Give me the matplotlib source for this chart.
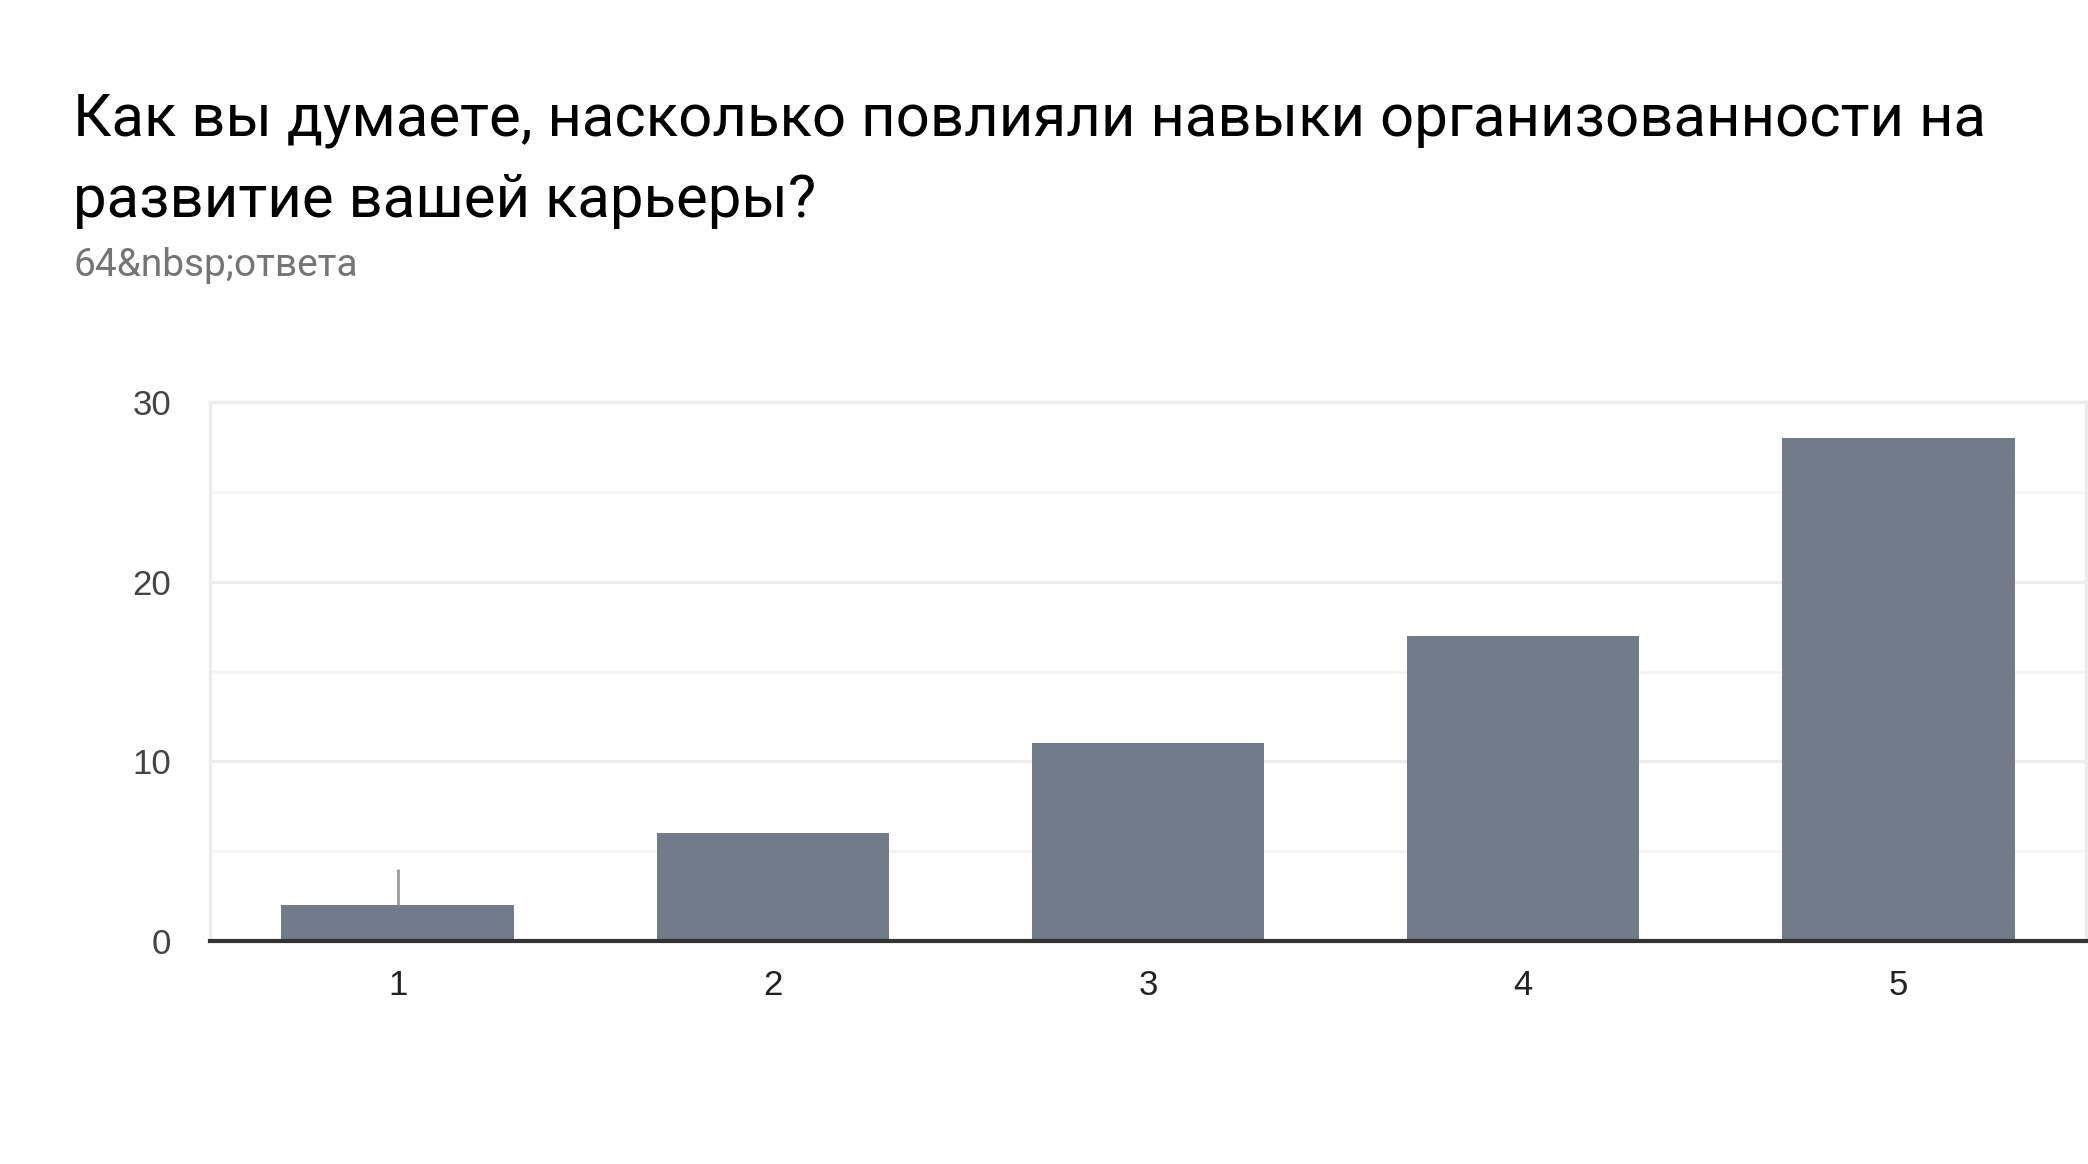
import matplotlib.pyplot as plt
from matplotlib.ticker import MultipleLocator

# survey answers (scale 1..5) and number of responses
categories = ['1', '2', '3', '4', '5']
counts = [2, 6, 11, 17, 28]
# small grey marker line over the first bar (from value to value)
marker_from = 2
marker_to = 4

title_lines = ['Как вы думаете, насколько повлияли навыки организованности на',
               'развитие вашей карьеры?']
subtitle = '64&nbsp;ответа'

bar_color = '#717b8a'

fig = plt.figure(figsize=(20.88, 11.64), dpi=100)
ax = fig.add_axes([0.1006, 0.1915, 0.8984, 0.4630])

x = list(range(len(categories)))
ax.bar(x, counts, width=0.62, color=bar_color, zorder=3)
ax.vlines(x[0], marker_from, marker_to, color='#9a9a9a', linewidth=2, zorder=4)

ax.set_xlim(-0.5, 4.5)
ax.set_ylim(0, 30)
ax.set_xticks(x)
ax.set_xticklabels(categories)
ax.yaxis.set_major_locator(MultipleLocator(10))
ax.yaxis.set_minor_locator(MultipleLocator(5))

ax.grid(axis='y', which='major', color='#ebebeb', linewidth=2, zorder=0)
ax.grid(axis='y', which='minor', color='#f4f4f4', linewidth=2, zorder=0)
ax.tick_params(axis='both', which='both', length=0)
ax.tick_params(axis='y', pad=28, labelsize=25, labelcolor='#444444')
ax.tick_params(axis='x', pad=20, labelsize=25, labelcolor='#222222')
for lbl in ax.get_xticklabels() + ax.get_yticklabels():
    lbl.set_family('Liberation Sans')

for side in ['left', 'top', 'right']:
    ax.spines[side].set_color('#ececec')
    ax.spines[side].set_linewidth(2.5)
ax.spines['bottom'].set_color('#333333')
ax.spines['bottom'].set_linewidth(3)
ax.spines['bottom'].set_zorder(5)

baselines = [136, 217]
for line, base in zip(title_lines, baselines):
    fig.text(0.035, 1 - base / 1164, line, family='Roboto', fontsize=43.1, color='#000000',
             va='baseline', ha='left')
fig.text(0.035, 1 - 276 / 1164, subtitle, family='Roboto', fontsize=28, color='#757575',
         va='baseline', ha='left')

fig.savefig('out.png', dpi=100, facecolor='white')
